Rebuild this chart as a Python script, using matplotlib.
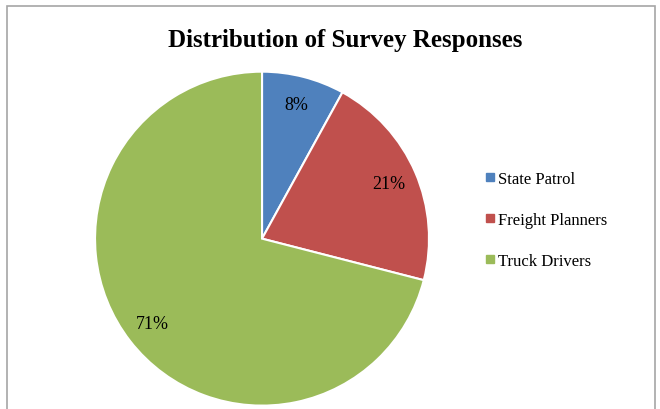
import matplotlib
matplotlib.use('Agg')
import matplotlib.pyplot as plt
from matplotlib.patches import Rectangle
from matplotlib.lines import Line2D

# 数据
categories = ['State Patrol', 'Freight Planners', 'Truck Drivers']
shares = [8, 21, 71]
colors = ['#4F81BD', '#C0504D', '#9BBB59']

plt.rcParams['font.family'] = ['Liberation Serif', 'DejaVu Serif']

fig = plt.figure(figsize=(6.6, 4.1), dpi=100)

# 外框
fig.patches.append(Rectangle((7 / 660, -0.02), 648 / 660, 1 - 7 / 410 + 0.02,
                             transform=fig.transFigure, fill=False,
                             edgecolor='#a6a6a6', linewidth=1.2))

ax = fig.add_axes([0.144, 0.008, 0.506, 0.815])
wedges, texts, autotexts = ax.pie(shares, colors=colors, startangle=90,
                                  counterclock=False, autopct='%d%%',
                                  pctdistance=0.83,
                                  wedgeprops=dict(edgecolor='white', linewidth=1.5),
                                  textprops=dict(fontsize=13, color='black'))
ax.set_xlim(-1, 1)
ax.set_ylim(-1, 1)
ax.set_aspect('equal')

fig.text(0.523, 0.9, 'Distribution of Survey Responses', ha='center', va='center',
         fontsize=18, fontweight='bold')

handles = [Line2D([], [], marker='s', linestyle='', markersize=6,
                  markerfacecolor=c, markeredgecolor=c) for c in colors]
fig.legend(handles, categories, loc='center left', bbox_to_anchor=(0.712, 0.462),
           frameon=False, fontsize=12, handlelength=0.6, handletextpad=0.2,
           labelspacing=1.5)

plt.savefig('out.png', dpi=100)
